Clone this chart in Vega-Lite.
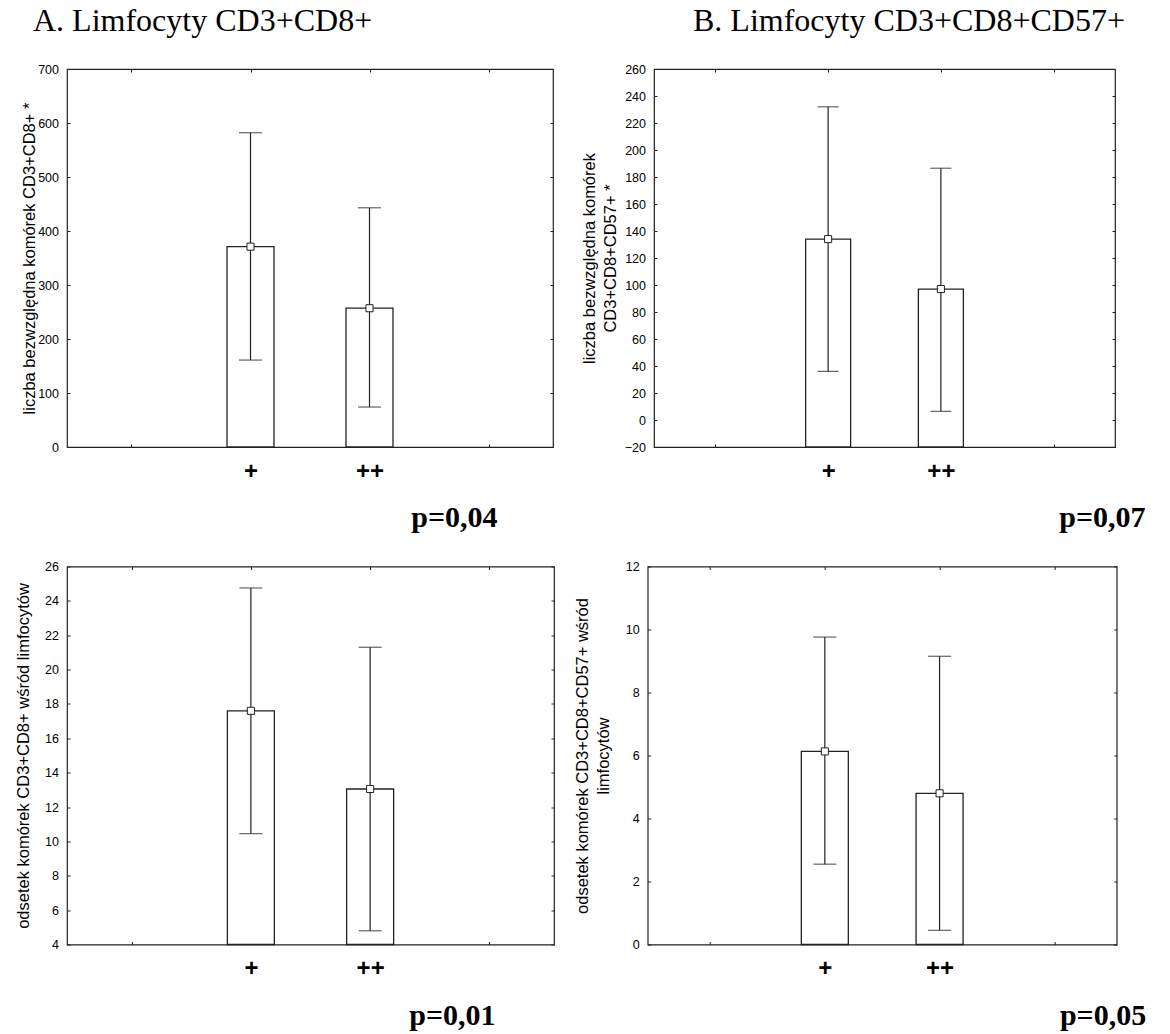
{
  "$schema": "https://vega.github.io/schema/vega-lite/v6.json",
  "background": "white",
  "padding": {"left": 14, "top": 4, "right": 0, "bottom": 0},
  "align": "none",
  "config": {
    "view": {"stroke": "#222", "strokeWidth": 1.2},
    "axis": {"grid": false, "domain": false, "tickColor": "#222", "tickSize": -3, "labelFont": "Liberation Sans", "labelFontSize": 12.5, "labelColor": "black", "labelPadding": 11.5, "titleFont": "Liberation Sans", "titleFontSize": 16.5, "titleFontWeight": "normal", "titleColor": "black", "titleLineHeight": 21},
    "title": {"font": "Liberation Serif", "fontSize": 32, "fontWeight": "normal", "color": "black", "anchor": "start", "frame": "group"}
  },
  "vconcat": [
    {
      "hconcat": [
        {
          "width": 486, "height": 378,
          "title": {"text": "A. Limfocyty CD3+CD8+", "dx": -34, "offset": 25},
          "data": {"values": [
            {"grp": "+", "pos": 2, "mean": 371, "lo": 161, "hi": 582},
            {"grp": "++", "pos": 3, "mean": 257, "lo": 74, "hi": 443}
          ]},
          "layer": [
            {"mark": {"type": "bar", "fill": "white", "stroke": "#222", "strokeWidth": 1.3, "size": 47},
             "encoding": {
               "x": {"field": "pos", "type": "quantitative", "scale": {"domain": [0.5, 4.5], "nice": false},
                     "axis": {"values": [1, 2, 3, 4], "labelExpr": "datum.value == 2 ? '+' : datum.value == 3 ? '++' : ''", "labelFontSize": 24, "labelFontWeight": "bold", "labelBaseline": "middle", "labelPadding": 27, "title": "p=0,04", "titleFont": "Liberation Serif", "titleFontSize": 30, "titleFontWeight": "bold", "titleAlign": "right", "titleX": 430, "titleY": 79, "titleBaseline": "alphabetic"}},
               "y": {"field": "mean", "type": "quantitative", "scale": {"domain": [0, 700], "nice": false},
                     "axis": {"values": [0, 100, 200, 300, 400, 500, 600, 700], "title": "liczba bezwzględna komórek CD3+CD8+ *", "titlePadding": 0}},
               "y2": {"datum": 0}
             }},
            {"mark": {"type": "rule", "stroke": "#222", "strokeWidth": 1.2},
             "encoding": {"x": {"field": "pos", "type": "quantitative", "axis": null}, "y": {"field": "lo", "type": "quantitative", "axis": null}, "y2": {"field": "hi"}}},
            {"mark": {"type": "tick", "orient": "horizontal", "size": 23, "thickness": 1.2, "color": "#222"},
             "encoding": {"x": {"field": "pos", "type": "quantitative", "axis": null}, "y": {"field": "hi", "type": "quantitative", "axis": null}}},
            {"mark": {"type": "tick", "orient": "horizontal", "size": 23, "thickness": 1.2, "color": "#222"},
             "encoding": {"x": {"field": "pos", "type": "quantitative", "axis": null}, "y": {"field": "lo", "type": "quantitative", "axis": null}}},
            {"mark": {"type": "point", "shape": "square", "filled": true, "fill": "white", "stroke": "#222", "strokeWidth": 1, "size": 50, "opacity": 1},
             "encoding": {
               "x": {"field": "pos", "type": "quantitative", "axis": {"orient": "top", "values": [1, 2, 3, 4], "labels": false, "title": null}},
               "y": {"field": "mean", "type": "quantitative", "axis": {"orient": "right", "values": [0, 100, 200, 300, 400, 500, 600, 700], "labels": false, "title": null}}
             }}
          ],
          "resolve": {"axis": {"x": "independent", "y": "independent"}}
        },
        {
          "width": 461, "height": 378,
          "title": {"text": "B. Limfocyty CD3+CD8+CD57+", "dx": 39, "offset": 25},
          "data": {"values": [
            {"grp": "+", "pos": 2, "mean": 134, "lo": 36, "hi": 232},
            {"grp": "++", "pos": 3, "mean": 97, "lo": 6.4, "hi": 186.5}
          ]},
          "layer": [
            {"mark": {"type": "bar", "fill": "white", "stroke": "#222", "strokeWidth": 1.3, "size": 45},
             "encoding": {
               "x": {"field": "pos", "type": "quantitative", "scale": {"domain": [0.5, 4.5], "nice": false},
                     "axis": {"values": [1, 2, 3, 4], "labelExpr": "datum.value == 2 ? '+' : datum.value == 3 ? '++' : ''", "labelFontSize": 24, "labelFontWeight": "bold", "labelBaseline": "middle", "labelPadding": 27, "title": "p=0,07", "titleFont": "Liberation Serif", "titleFontSize": 30, "titleFontWeight": "bold", "titleAlign": "right", "titleX": 491, "titleY": 79, "titleBaseline": "alphabetic"}},
               "y": {"field": "mean", "type": "quantitative", "scale": {"domain": [-20, 260], "nice": false},
                     "axis": {"values": [-20, 0, 20, 40, 60, 80, 100, 120, 140, 160, 180, 200, 220, 240, 260], "title": ["liczba bezwzględna komórek", "CD3+CD8+CD57+ *"], "titlePadding": 6}},
               "y2": {"datum": -20}
             }},
            {"mark": {"type": "rule", "stroke": "#222", "strokeWidth": 1.2},
             "encoding": {"x": {"field": "pos", "type": "quantitative", "axis": null}, "y": {"field": "lo", "type": "quantitative", "axis": null}, "y2": {"field": "hi"}}},
            {"mark": {"type": "tick", "orient": "horizontal", "size": 21, "thickness": 1.2, "color": "#222"},
             "encoding": {"x": {"field": "pos", "type": "quantitative", "axis": null}, "y": {"field": "hi", "type": "quantitative", "axis": null}}},
            {"mark": {"type": "tick", "orient": "horizontal", "size": 21, "thickness": 1.2, "color": "#222"},
             "encoding": {"x": {"field": "pos", "type": "quantitative", "axis": null}, "y": {"field": "lo", "type": "quantitative", "axis": null}}},
            {"mark": {"type": "point", "shape": "square", "filled": true, "fill": "white", "stroke": "#222", "strokeWidth": 1, "size": 50, "opacity": 1},
             "encoding": {
               "x": {"field": "pos", "type": "quantitative", "axis": {"orient": "top", "values": [1, 2, 3, 4], "labels": false, "title": null}},
               "y": {"field": "mean", "type": "quantitative", "axis": {"orient": "right", "values": [-20, 0, 20, 40, 60, 80, 100, 120, 140, 160, 180, 200, 220, 240, 260], "labels": false, "title": null}}
             }}
          ],
          "resolve": {"axis": {"x": "independent", "y": "independent"}}
        }
      ],
      "spacing": 25
    },
    {
      "hconcat": [
        {
          "width": 487, "height": 378,
          "data": {"values": [
            {"grp": "+", "pos": 2, "mean": 17.6, "lo": 10.45, "hi": 24.75},
            {"grp": "++", "pos": 3, "mean": 13.05, "lo": 4.8, "hi": 21.3}
          ]},
          "layer": [
            {"mark": {"type": "bar", "fill": "white", "stroke": "#222", "strokeWidth": 1.3, "size": 47},
             "encoding": {
               "x": {"field": "pos", "type": "quantitative", "scale": {"domain": [0.5, 4.5], "nice": false},
                     "axis": {"values": [1, 2, 3, 4], "labelExpr": "datum.value == 2 ? '+' : datum.value == 3 ? '++' : ''", "labelFontSize": 24, "labelFontWeight": "bold", "labelBaseline": "middle", "labelPadding": 27, "title": "p=0,01", "titleFont": "Liberation Serif", "titleFontSize": 30, "titleFontWeight": "bold", "titleAlign": "right", "titleX": 428, "titleY": 80, "titleBaseline": "alphabetic"}},
               "y": {"field": "mean", "type": "quantitative", "scale": {"domain": [4, 26], "nice": false},
                     "axis": {"values": [4, 6, 8, 10, 12, 14, 16, 18, 20, 22, 24, 26], "title": "odsetek komórek CD3+CD8+ wśród limfocytów", "titlePadding": 13}},
               "y2": {"datum": 4}
             }},
            {"mark": {"type": "rule", "stroke": "#222", "strokeWidth": 1.2},
             "encoding": {"x": {"field": "pos", "type": "quantitative", "axis": null}, "y": {"field": "lo", "type": "quantitative", "axis": null}, "y2": {"field": "hi"}}},
            {"mark": {"type": "tick", "orient": "horizontal", "size": 23, "thickness": 1.2, "color": "#222"},
             "encoding": {"x": {"field": "pos", "type": "quantitative", "axis": null}, "y": {"field": "hi", "type": "quantitative", "axis": null}}},
            {"mark": {"type": "tick", "orient": "horizontal", "size": 23, "thickness": 1.2, "color": "#222"},
             "encoding": {"x": {"field": "pos", "type": "quantitative", "axis": null}, "y": {"field": "lo", "type": "quantitative", "axis": null}}},
            {"mark": {"type": "point", "shape": "square", "filled": true, "fill": "white", "stroke": "#222", "strokeWidth": 1, "size": 50, "opacity": 1},
             "encoding": {
               "x": {"field": "pos", "type": "quantitative", "axis": {"orient": "top", "values": [1, 2, 3, 4], "labels": false, "title": null}},
               "y": {"field": "mean", "type": "quantitative", "axis": {"orient": "right", "values": [4, 6, 8, 10, 12, 14, 16, 18, 20, 22, 24, 26], "labels": false, "title": null}}
             }}
          ],
          "resolve": {"axis": {"x": "independent", "y": "independent"}}
        },
        {
          "width": 469, "height": 378,
          "data": {"values": [
            {"grp": "+", "pos": 2, "mean": 6.13, "lo": 2.55, "hi": 9.76},
            {"grp": "++", "pos": 3, "mean": 4.8, "lo": 0.45, "hi": 9.15}
          ]},
          "layer": [
            {"mark": {"type": "bar", "fill": "white", "stroke": "#222", "strokeWidth": 1.3, "size": 47},
             "encoding": {
               "x": {"field": "pos", "type": "quantitative", "scale": {"domain": [0.5, 4.5], "nice": false},
                     "axis": {"values": [1, 2, 3, 4], "labelExpr": "datum.value == 2 ? '+' : datum.value == 3 ? '++' : ''", "labelFontSize": 24, "labelFontWeight": "bold", "labelBaseline": "middle", "labelPadding": 27, "title": "p=0,05", "titleFont": "Liberation Serif", "titleFontSize": 30, "titleFontWeight": "bold", "titleAlign": "right", "titleX": 498, "titleY": 80, "titleBaseline": "alphabetic"}},
               "y": {"field": "mean", "type": "quantitative", "scale": {"domain": [0, 12], "nice": false},
                     "axis": {"values": [0, 2, 4, 6, 8, 10, 12], "title": ["odsetek komórek CD3+CD8+CD57+ wśród", "limfocytów"], "titlePadding": 14}},
               "y2": {"datum": 0}
             }},
            {"mark": {"type": "rule", "stroke": "#222", "strokeWidth": 1.2},
             "encoding": {"x": {"field": "pos", "type": "quantitative", "axis": null}, "y": {"field": "lo", "type": "quantitative", "axis": null}, "y2": {"field": "hi"}}},
            {"mark": {"type": "tick", "orient": "horizontal", "size": 23, "thickness": 1.2, "color": "#222"},
             "encoding": {"x": {"field": "pos", "type": "quantitative", "axis": null}, "y": {"field": "hi", "type": "quantitative", "axis": null}}},
            {"mark": {"type": "tick", "orient": "horizontal", "size": 23, "thickness": 1.2, "color": "#222"},
             "encoding": {"x": {"field": "pos", "type": "quantitative", "axis": null}, "y": {"field": "lo", "type": "quantitative", "axis": null}}},
            {"mark": {"type": "point", "shape": "square", "filled": true, "fill": "white", "stroke": "#222", "strokeWidth": 1, "size": 50, "opacity": 1},
             "encoding": {
               "x": {"field": "pos", "type": "quantitative", "axis": {"orient": "top", "values": [1, 2, 3, 4], "labels": false, "title": null}},
               "y": {"field": "mean", "type": "quantitative", "axis": {"orient": "right", "values": [0, 2, 4, 6, 8, 10, 12], "labels": false, "title": null}}
             }}
          ],
          "resolve": {"axis": {"x": "independent", "y": "independent"}}
        }
      ],
      "spacing": 16.7
    }
  ],
  "spacing": 26.5
}
